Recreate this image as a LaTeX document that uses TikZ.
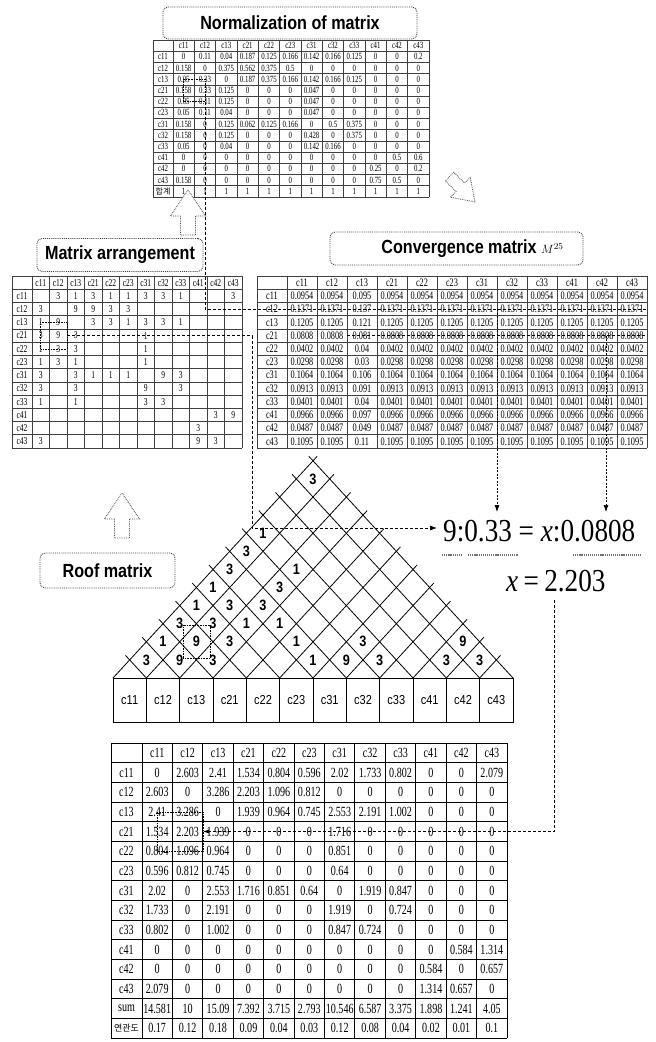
\documentclass[tikz,border=0pt]{standalone}
\usepackage{fontspec}
\setmainfont{Liberation Serif}
\newfontfamily\lblfont[FakeStretch=0.85]{Liberation Sans}
\newfontfamily\tabfont[FakeStretch=0.72]{Liberation Serif}
\newfontfamily\eqfont[FakeStretch=0.85]{Liberation Serif}
\newfontfamily\krfont{Noto Sans CJK KR}
\usetikzlibrary{arrows.meta}

\tikzset{
  lblbox/.style={draw=black!75, densely dotted, line width=0.9pt, rounded corners=5pt, inner sep=0pt,
    font=\lblfont\bfseries\fontsize{19}{22}\selectfont},
  hollow/.style={draw=black!70, densely dotted, line width=0.8pt, fill=white},
  tgrid/.style={draw=black!75, line width=0.55pt},
  bgrid/.style={draw=black, line width=0.9pt},
  ncell/.style={inner sep=0pt, font=\tabfont\fontsize{9.5}{10}\selectfont},
  mcell/.style={inner sep=0pt, font=\tabfont\fontsize{10.5}{11}\selectfont},
  ccell/.style={inner sep=0pt, font=\tabfont\fontsize{11.5}{12}\selectfont},
  bcell/.style={inner sep=0pt, font=\tabfont\fontsize{14}{15}\selectfont},
  roofline/.style={line width=0.8pt},
  roofnum/.style={inner sep=0pt, font=\lblfont\bfseries\fontsize{15}{15}\selectfont},
  cbox/.style={draw, line width=0.8pt, minimum width=33.333pt, minimum height=44pt, inner sep=0pt,
    font=\lblfont\fontsize{13}{13}\selectfont},
  eqtext/.style={inner sep=0pt, font=\eqfont\fontsize{32}{32}\selectfont},
  dashline/.style={dash pattern=on 3pt off 2pt, line width=0.7pt},
  dotbox/.style={densely dotted, line width=0.6pt},
  arrline/.style={dash pattern=on 2pt off 1.5pt, line width=0.7pt, -{Latex[length=7pt,width=5pt]}},
  uline/.style={line width=2.2pt, draw=black!55, dash pattern=on 1.2pt off 0.9pt}
}

\begin{document}
\begin{tikzpicture}[x=1pt,y=-1pt]
  \useasboundingbox (0,0) rectangle (656,1042);
  \fill[white] (0,0) rectangle (656,1042);

  % column names shared by every matrix
  \def\colnames{c11,c12,c13,c21,c22,c23,c31,c32,c33,c41,c42,c43}
  % hollow block arrow, tip at the origin
  \def\blockarrow{(0,0) -- (17.5,26) -- (7.5,26) -- (7.5,45) -- (-7.5,45) -- (-7.5,26) -- (-17.5,26) -- cycle}

  % ---------------- Normalization of matrix ----------------
  \node[lblbox, minimum width=254pt, minimum height=32pt] (normlbl) at (290,23) {Normalization of matrix};
  \def\tabx{153}\def\taby{40}\def\labw{20}\def\colw{21.33}\def\rowh{11.2}
  \foreach \k in {0,...,14}
    \draw[tgrid] (\tabx,{\taby+\k*\rowh}) -- ({\tabx+\labw+12*\colw},{\taby+\k*\rowh});
  \draw[tgrid] (\tabx,\taby) -- (\tabx,{\taby+14*\rowh});
  \foreach \k in {0,...,12}
    \draw[tgrid] ({\tabx+\labw+\k*\colw},\taby) -- ({\tabx+\labw+\k*\colw},{\taby+14*\rowh});
  \foreach \nm [count=\ci] in \colnames
    \node[ncell] (nm-0-\ci) at ({\tabx+\labw+\colw*(\ci-0.5)},{\taby+0.5*\rowh}) {\nm};
  \foreach \row [count=\ri] in {
      {c11,0,0.11,0.04,0.187,0.125,0.166,0.142,0.166,0.125,0,0,0.2},
      {c12,0.158,0,0.375,0.562,0.375,0.5,0,0,0,0,0,0},
      {c13,0.05,0.33,0,0.187,0.375,0.166,0.142,0.166,0.125,0,0,0},
      {c21,0.158,0.33,0.125,0,0,0,0.047,0,0,0,0,0},
      {c22,0.05,0.11,0.125,0,0,0,0.047,0,0,0,0,0},
      {c23,0.05,0.11,0.04,0,0,0,0.047,0,0,0,0,0},
      {c31,0.158,0,0.125,0.062,0.125,0.166,0,0.5,0.375,0,0,0},
      {c32,0.158,0,0.125,0,0,0,0.428,0,0.375,0,0,0},
      {c33,0.05,0,0.04,0,0,0,0.142,0.166,0,0,0,0},
      {c41,0,0,0,0,0,0,0,0,0,0,0.5,0.6},
      {c42,0,0,0,0,0,0,0,0,0,0.25,0,0.2},
      {c43,0.158,0,0,0,0,0,0,0,0,0.75,0.5,0},
      {{\krfont\fontsize{8}{8}\selectfont 합계},1,1,1,1,1,1,1,1,1,1,1,1}} {
    \foreach \val [count=\ci from 0] in \row {
      \pgfmathsetmacro{\xx}{\ci==0 ? \tabx+\labw/2 : \tabx+\labw+\colw*(\ci-0.5)}
      \node[ncell] (nm-\ri-\ci) at (\xx,{\taby+\rowh*(\ri+0.5)}) {\val};
    }
  }
  \draw[dotbox] (183.5,79.2) rectangle (205,101.6);
  \coordinate (nmhl) at (205,101.6);

  % arrows between the steps
  \begin{scope}[shift={(188,190)}]
    \draw[hollow] \blockarrow;
  \end{scope}
  \begin{scope}[shift={(475,202)}, rotate=-135, scale=0.8]
    \draw[hollow] \blockarrow;
  \end{scope}

  % ---------------- Matrix arrangement ----------------
  \node[lblbox, minimum width=166pt, minimum height=33pt] (malbl) at (120,255) {Matrix arrangement};
  \def\tabx{12}\def\taby{276}\def\labw{20}\def\colw{17.5}\def\rowh{13.23}
  \foreach \k in {0,...,13}
    \draw[tgrid] (\tabx,{\taby+\k*\rowh}) -- ({\tabx+\labw+12*\colw},{\taby+\k*\rowh});
  \draw[tgrid] (\tabx,\taby) -- (\tabx,{\taby+13*\rowh});
  \foreach \k in {0,...,12}
    \draw[tgrid] ({\tabx+\labw+\k*\colw},\taby) -- ({\tabx+\labw+\k*\colw},{\taby+13*\rowh});
  \foreach \nm [count=\ci] in \colnames
    \node[mcell] (ma-0-\ci) at ({\tabx+\labw+\colw*(\ci-0.5)},{\taby+0.5*\rowh}) {\nm};
  \foreach \row [count=\ri] in {
      {c11,{},3,1,3,1,1,3,3,1,{},{},3},
      {c12,3,{},9,9,3,3,{},{},{},{},{},{}},
      {c13,1,9,{},3,3,1,3,3,1,{},{},{}},
      {c21,3,9,3,{},{},{},1,{},{},{},{},{}},
      {c22,1,3,3,{},{},{},1,{},{},{},{},{}},
      {c23,1,3,1,{},{},{},1,{},{},{},{},{}},
      {c31,3,{},3,1,1,1,{},9,3,{},{},{}},
      {c32,3,{},3,{},{},{},9,{},3,{},{},{}},
      {c33,1,{},1,{},{},{},3,3,{},{},{},{}},
      {c41,{},{},{},{},{},{},{},{},{},{},3,9},
      {c42,{},{},{},{},{},{},{},{},{},3,{},{}},
      {c43,3,{},{},{},{},{},{},{},{},9,3,{}}} {
    \foreach \val [count=\ci from 0] in \row {
      \pgfmathsetmacro{\xx}{\ci==0 ? \tabx+\labw/2 : \tabx+\labw+\colw*(\ci-0.5)}
      \node[mcell] (ma-\ri-\ci) at (\xx,{\taby+\rowh*(\ri+0.5)}) {\val};
    }
  }
  \draw[dotbox] (40.75,322.3) rectangle (67,348.8);
  \coordinate (mahl) at (67,335.5);

  % ---------------- Convergence matrix ----------------
  \node[lblbox, minimum width=253pt, minimum height=33pt] (cvlbl) at (456.5,248.5)
    {\hspace*{32pt}Convergence matrix {\normalfont\fontsize{13}{13}\selectfont$M^{25}$}};
  \def\tabx{257}\def\taby{276}\def\labw{30}\def\colw{30}\def\rowh{13.23}
  \foreach \k in {0,...,13}
    \draw[tgrid] (\tabx,{\taby+\k*\rowh}) -- ({\tabx+\labw+12*\colw},{\taby+\k*\rowh});
  \draw[tgrid] (\tabx,\taby) -- (\tabx,{\taby+13*\rowh});
  \foreach \k in {0,...,12}
    \draw[tgrid] ({\tabx+\labw+\k*\colw},\taby) -- ({\tabx+\labw+\k*\colw},{\taby+13*\rowh});
  \foreach \nm [count=\ci] in \colnames
    \node[ccell] (cv-0-\ci) at ({\tabx+\labw+\colw*(\ci-0.5)},{\taby+0.5*\rowh}) {\nm};
  \foreach \lab/\val/\short [count=\ri] in {c11/0.0954/0.095, c12/0.1371/0.137, c13/0.1205/0.121,
      c21/0.0808/0.081, c22/0.0402/0.04, c23/0.0298/0.03, c31/0.1064/0.106, c32/0.0913/0.091,
      c33/0.0401/0.04, c41/0.0966/0.097, c42/0.0487/0.049, c43/0.1095/0.11} {
    \node[ccell] (cv-\ri-0) at ({\tabx+\labw/2},{\taby+\rowh*(\ri+0.5)}) {\lab};
    \foreach \ci in {1,...,12}
      \node[ccell] (cv-\ri-\ci) at ({\tabx+\labw+\colw*(\ci-0.5)},{\taby+\rowh*(\ri+0.5)})
        {\ifnum\ci=3 \short\else\val\fi};
  }
  \coordinate (cvc12) at (647,309.1);
  \coordinate (cv21a) at (347,335.5);
  \coordinate (cv21b) at (647,335.5);
  \coordinate (cv31) at (497,309.1);
  \coordinate (cv42) at (606,335.5);

  % ---------------- Roof matrix ----------------
  \node[lblbox, minimum width=135pt, minimum height=35pt] (rflbl) at (107.5,570.5) {Roof matrix};
  \begin{scope}[shift={(122,493)}]
    \draw[hollow] \blockarrow;
  \end{scope}
  \def\rx{113}\def\ry{678}\def\rw{33.333}\def\rh{18.1}
  \foreach \k in {0,...,11}
    \draw[roofline] ({\rx+\k*\rw},\ry) -- ++({(12-\k+0.25)*\rw/2},{-(12-\k+0.25)*\rh});
  \foreach \k in {1,...,12}
    \draw[roofline] ({\rx+\k*\rw},\ry) -- ++({-(\k+0.25)*\rw/2},{-(\k+0.25)*\rh});
  \foreach \nm [count=\ci] in \colnames
    \node[cbox] (cb-\ci) at ({\rx+\rw*(\ci-0.5)},700) {\nm};
  \foreach \ii/\jj/\val in {1/2/3,1/3/1,1/4/3,1/5/1,1/6/1,1/7/3,1/8/3,1/9/1,1/12/3,
      2/3/9,2/4/9,2/5/3,2/6/3,3/4/3,3/5/3,3/6/1,3/7/3,3/8/3,3/9/1,
      4/7/1,5/7/1,6/7/1,7/8/9,7/9/3,8/9/3,10/11/3,10/12/9,11/12/3}
    \node[roofnum] (rf-\ii-\jj) at ({\rx+\rw*((\ii+\jj)/2-0.5)},{\ry-\rh*(\jj-\ii)}) {\val};
  \draw[dotbox] ([shift={(-13.5,-16.5)}]rf-2-4.center) rectangle ([shift={(13.5,16.5)}]rf-2-4.center);

  % ---------------- proportion ----------------
  \node[eqtext, anchor=base west] (eqa) at (443,541) {9:0.33 = {\itshape x}:0.0808};
  \node[eqtext, anchor=base west] (eqb) at (506,591) {{\itshape x}\,=\,2.203};
  \draw[uline] (442,555) -- (462,555);
  \draw[uline] (468,555) -- (518,555);
  \draw[uline] (573,555) -- (642,555);
  \coordinate (eq31) at (497,512);
  \coordinate (eq42) at (606,512);
  \coordinate (madn) at (252,528);
  \coordinate (eqin) at (437,528);
  \coordinate (eqdn) at (554,600);

  % ---------------- final matrix ----------------
  \def\tabx{111}\def\taby{743}\def\labw{31}\def\colw{30.42}\def\rowh{19.67}
  \foreach \k in {0,...,15}
    \draw[bgrid] (\tabx,{\taby+\k*\rowh}) -- ({\tabx+\labw+12*\colw},{\taby+\k*\rowh});
  \draw[bgrid] (\tabx,\taby) -- (\tabx,{\taby+15*\rowh});
  \foreach \k in {0,...,12}
    \draw[bgrid] ({\tabx+\labw+\k*\colw},\taby) -- ({\tabx+\labw+\k*\colw},{\taby+15*\rowh});
  \foreach \nm [count=\ci] in \colnames
    \node[bcell] (bt-0-\ci) at ({\tabx+\labw+\colw*(\ci-0.5)},{\taby+0.5*\rowh}) {\nm};
  \foreach \row [count=\ri] in {
      {c11,0,2.603,2.41,1.534,0.804,0.596,2.02,1.733,0.802,0,0,2.079},
      {c12,2.603,0,3.286,2.203,1.096,0.812,0,0,0,0,0,0},
      {c13,2.41,3.286,0,1.939,0.964,0.745,2.553,2.191,1.002,0,0,0},
      {c21,1.534,2.203,1.939,0,0,0,1.716,0,0,0,0,0},
      {c22,0.804,1.096,0.964,0,0,0,0.851,0,0,0,0,0},
      {c23,0.596,0.812,0.745,0,0,0,0.64,0,0,0,0,0},
      {c31,2.02,0,2.553,1.716,0.851,0.64,0,1.919,0.847,0,0,0},
      {c32,1.733,0,2.191,0,0,0,1.919,0,0.724,0,0,0},
      {c33,0.802,0,1.002,0,0,0,0.847,0.724,0,0,0,0},
      {c41,0,0,0,0,0,0,0,0,0,0,0.584,1.314},
      {c42,0,0,0,0,0,0,0,0,0,0.584,0,0.657},
      {c43,2.079,0,0,0,0,0,0,0,0,1.314,0.657,0},
      {sum,14.581,10,15.09,7.392,3.715,2.793,10.546,6.587,3.375,1.898,1.241,4.05},
      {{\krfont\fontsize{9}{9}\selectfont 연관도},0.17,0.12,0.18,0.09,0.04,0.03,0.12,0.08,0.04,0.02,0.01,0.1}} {
    \foreach \val [count=\ci from 0] in \row {
      \pgfmathsetmacro{\xx}{\ci==0 ? \tabx+\labw/2 : \tabx+\labw+\colw*(\ci-0.5)}
      \node[bcell] (bt-\ri-\ci) at (\xx,{\taby+\rowh*(\ri+0.5)}) {\val};
    }
  }
  \draw[dotbox] (157.2,811.8) rectangle (202.8,851.2);
  \coordinate (bthl) at (203,831.5);

  % ---------------- tracing lines ----------------
  \draw[dashline] (nmhl) |- (cvc12);
  \draw[dashline, -{Latex[length=7pt,width=5pt]}] (mahl) -| (madn) -- (eqin);
  \draw[dashline] (cv21a) -- (cv21b);
  \draw[arrline] (cv31) -- (eq31);
  \draw[arrline] (cv42) -- (eq42);
  \draw[dashline, -{Latex[length=6pt,width=4pt]}] (eqdn) |- (bthl);
\end{tikzpicture}
\end{document}
